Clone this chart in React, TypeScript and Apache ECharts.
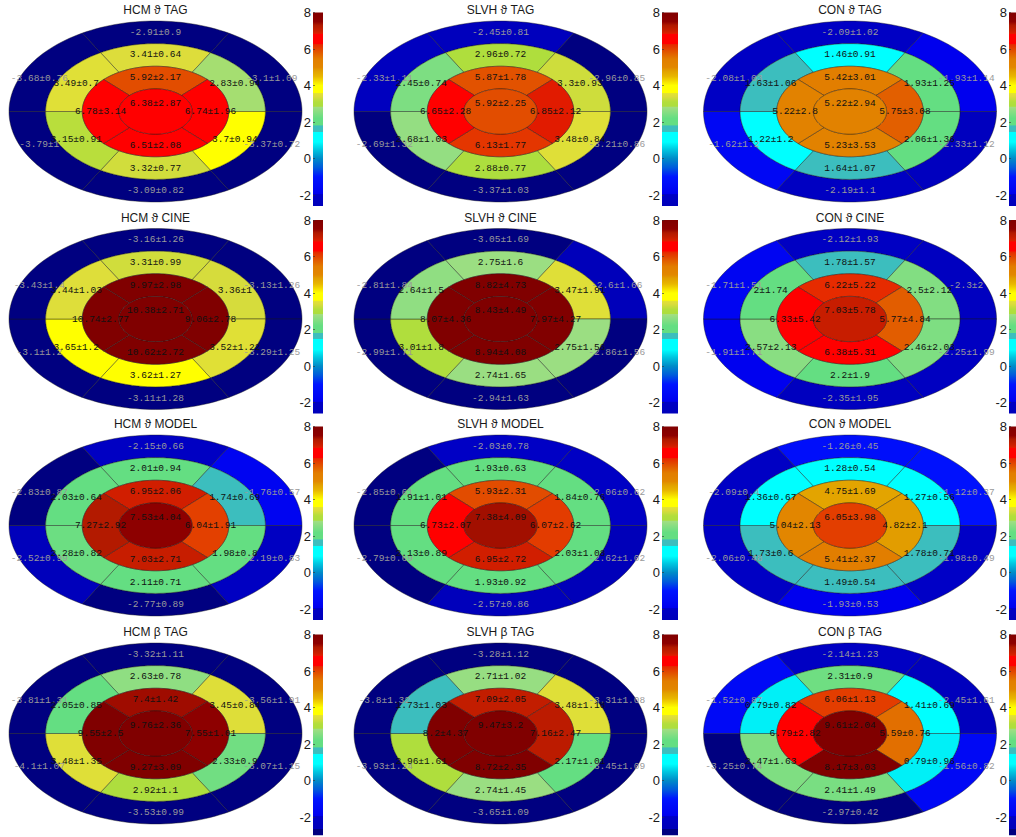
import React, { useEffect, useRef } from "react";
import * as echarts from "echarts";

// Panel titles (row by row)
const TITLES = [
  "HCM ϑ TAG", "SLVH ϑ TAG", "CON ϑ TAG",
  "HCM ϑ CINE", "SLVH ϑ CINE", "CON ϑ CINE",
  "HCM ϑ MODEL", "SLVH ϑ MODEL", "CON ϑ MODEL",
  "HCM β TAG", "SLVH β TAG", "CON β TAG",
];

// Segment order: outer ring (top, upper-right, lower-right, bottom, lower-left, upper-left),
// middle ring (same order), inner ring (top, right, bottom, left), apex
const HCM_THETA_TAG_MEAN = [-2.91, -3.1, -3.37, -3.09, -3.79, -3.68, 3.41, 2.83, 3.7, 3.32, 3.15, 3.49, 5.92, 6.74, 6.51, 6.78, 6.38];
const HCM_THETA_TAG_SD = [0.9, 1.09, 0.72, 0.82, 1, 0.76, 0.64, 0.94, 0.94, 0.77, 0.91, 0.7, 2.17, 1.96, 2.08, 3.14, 2.87];

const SLVH_THETA_TAG_MEAN = [-2.45, -2.96, -3.21, -3.37, -2.69, -2.33, 2.96, 3.3, 3.48, 2.88, 2.68, 2.45, 5.87, 6.85, 6.13, 6.65, 5.92];
const SLVH_THETA_TAG_SD = [0.81, 0.85, 0.86, 1.03, 1.32, 1.11, 0.72, 0.93, 0.84, 0.77, 1.03, 0.74, 1.78, 2.12, 1.77, 2.28, 2.25];

const CON_THETA_TAG_MEAN = [-2.09, -1.93, -2.33, -2.19, -1.62, -2.08, 1.46, 1.93, 2.06, 1.64, 1.22, 1.63, 5.42, 5.75, 5.23, 5.22, 5.22];
const CON_THETA_TAG_SD = [1.02, 1.14, 1.12, 1.1, 1.2, 1.03, 0.91, 1.25, 1.36, 1.07, 1.2, 1.06, 3.01, 3.08, 3.53, 2.8, 2.94];

const HCM_THETA_CINE_MEAN = [-3.16, -3.13, -3.29, -3.11, -3.1, -3.43, 3.31, 3.36, 3.52, 3.62, 3.65, 3.44, 9.97, 9.06, 10.62, 10.74, 10.38];
const HCM_THETA_CINE_SD = [1.26, 1.26, 1.25, 1.28, 1.2, 1.4, 0.99, 1, 1.22, 1.27, 1.2, 1.03, 2.98, 2.78, 2.72, 2.77, 2.71];

const SLVH_THETA_CINE_MEAN = [-3.05, -2.6, -2.86, -2.94, -2.99, -2.81, 2.75, 3.47, 2.75, 2.74, 3.01, 2.64, 8.82, 7.97, 8.94, 8.07, 8.43];
const SLVH_THETA_CINE_SD = [1.69, 1.66, 1.56, 1.63, 1.71, 1.84, 1.6, 1.91, 1.56, 1.65, 1.8, 1.5, 4.73, 4.27, 4.08, 4.36, 4.49];

const CON_THETA_CINE_MEAN = [-2.12, -2.3, -2.25, -2.35, -1.91, -1.71, 1.78, 2.5, 2.46, 2.2, 2.57, 2, 6.22, 5.77, 6.38, 6.33, 7.03];
const CON_THETA_CINE_SD = [1.93, 2, 1.99, 1.95, 1.71, 1.51, 1.57, 2.12, 2.03, 1.9, 2.13, 1.74, 5.22, 4.84, 5.31, 5.42, 5.78];

const HCM_THETA_MODEL_MEAN = [-2.15, -1.76, -2.19, -2.77, -2.52, -2.83, 2.01, 1.74, 1.98, 2.11, 2.28, 2.03, 6.95, 6.04, 7.03, 7.27, 7.53];
const HCM_THETA_MODEL_SD = [0.66, 0.57, 0.83, 0.89, 0.99, 0.87, 0.94, 0.69, 0.8, 0.71, 0.82, 0.64, 2.06, 1.91, 2.71, 2.92, 4.04];

const SLVH_THETA_MODEL_MEAN = [-2.03, -2.06, -2.62, -2.57, -2.79, -2.85, 1.93, 1.84, 2.03, 1.93, 2.13, 1.91, 5.93, 6.07, 6.95, 6.73, 7.38];
const SLVH_THETA_MODEL_SD = [0.78, 0.62, 1.02, 0.86, 0.69, 0.61, 0.63, 0.76, 1.08, 0.92, 0.89, 1.01, 2.31, 2.62, 2.72, 2.07, 4.09];

const CON_THETA_MODEL_MEAN = [-1.26, -1.12, -1.98, -1.93, -2.06, -2.09, 1.28, 1.27, 1.78, 1.49, 1.73, 1.36, 4.75, 4.82, 5.41, 5.04, 6.05];
const CON_THETA_MODEL_SD = [0.45, 0.37, 0.49, 0.53, 0.48, 0.4, 0.54, 0.56, 0.71, 0.54, 0.6, 0.67, 1.69, 2.1, 2.37, 2.13, 3.98];

const HCM_BETA_TAG_MEAN = [-3.32, -3.56, -3.07, -3.53, -4.1, -3.81, 2.63, 3.45, 2.33, 2.92, 3.48, 2.05, 7.4, 7.55, 9.27, 9.55, 9.76];
const HCM_BETA_TAG_SD = [1.11, 1.91, 1.15, 0.99, 1.07, 1.31, 0.78, 0.84, 0.9, 1.1, 1.35, 0.85, 1.42, 1.01, 3.09, 2.5, 2.36];

const SLVH_BETA_TAG_MEAN = [-3.28, -3.31, -3.45, -3.65, -3.93, -3.8, 2.71, 3.48, 2.17, 2.74, 2.96, 1.73, 7.09, 7.16, 8.72, 8.2, 9.47];
const SLVH_BETA_TAG_SD = [1.12, 1.08, 1.09, 1.09, 1.24, 1.32, 1.02, 1.18, 1.01, 1.45, 1.61, 1.03, 2.05, 2.47, 2.35, 4.37, 3.2];

const CON_BETA_TAG_MEAN = [-2.14, -2.45, -1.56, -2.97, -3.25, -1.52, 2.31, 1.41, 0.79, 2.41, 2.47, 0.79, 6.06, 5.59, 8.17, 6.79, 9.61];
const CON_BETA_TAG_SD = [1.23, 1.61, 0.82, 0.42, 0.74, 0.87, 0.9, 0.69, 0.96, 1.49, 1.63, 0.82, 1.13, 0.76, 3.03, 2.82, 2.04];

const PANEL_MEANS = [
  HCM_THETA_TAG_MEAN, SLVH_THETA_TAG_MEAN, CON_THETA_TAG_MEAN,
  HCM_THETA_CINE_MEAN, SLVH_THETA_CINE_MEAN, CON_THETA_CINE_MEAN,
  HCM_THETA_MODEL_MEAN, SLVH_THETA_MODEL_MEAN, CON_THETA_MODEL_MEAN,
  HCM_BETA_TAG_MEAN, SLVH_BETA_TAG_MEAN, CON_BETA_TAG_MEAN,
];
const PANEL_SDS = [
  HCM_THETA_TAG_SD, SLVH_THETA_TAG_SD, CON_THETA_TAG_SD,
  HCM_THETA_CINE_SD, SLVH_THETA_CINE_SD, CON_THETA_CINE_SD,
  HCM_THETA_MODEL_SD, SLVH_THETA_MODEL_SD, CON_THETA_MODEL_SD,
  HCM_BETA_TAG_SD, SLVH_BETA_TAG_SD, CON_BETA_TAG_SD,
];

// Colour bar scale
const CB_TICKS = [-2, 0, 2, 4, 6, 8];
const CB_MAX = 8;
const CB_MIN_BY_ROW = [-2.6, -2.6, -2.6, -3];

// ---------- style / layout ----------
const CMAP_MIN = -2.66;
const CMAP_MAX = 8;
// [value, r, g, b] colour stops of the (jet-like) colour map
const CMAP_STOPS: number[][] = [
  [-2.66, 0, 0, 128],
  [-2.64, 0, 0, 185],
  [-1.97, 0, 0, 198],
  [-1.94, 0, 0, 238],
  [-1.0, 0, 20, 255],
  [-0.5, 0, 90, 220],
  [0.0, 0, 140, 200],
  [0.5, 0, 200, 225],
  [0.9, 0, 255, 255],
  [1.47, 0, 255, 255],
  [1.48, 60, 190, 190],
  [1.8, 60, 190, 190],
  [1.82, 100, 222, 130],
  [2.2, 100, 222, 130],
  [2.82, 162, 222, 130],
  [2.86, 172, 222, 62],
  [3.1, 178, 222, 60],
  [3.4, 220, 220, 60],
  [3.56, 226, 226, 52],
  [3.6, 255, 255, 0],
  [4.0, 255, 255, 0],
  [4.5, 232, 182, 0],
  [4.8, 226, 160, 0],
  [5.0, 226, 135, 0],
  [5.45, 226, 125, 0],
  [5.75, 226, 95, 0],
  [6.0, 226, 68, 0],
  [6.25, 230, 40, 0],
  [6.3, 255, 0, 0],
  [6.8, 255, 0, 0],
  [6.85, 222, 30, 0],
  [7.0, 202, 30, 0],
  [7.3, 176, 25, 0],
  [7.5, 142, 0, 0],
  [8.0, 128, 0, 0],
];
function cmap(v: number): string {
  const s = CMAP_STOPS;
  if (v <= s[0][0]) return `rgb(${s[0][1]},${s[0][2]},${s[0][3]})`;
  for (let i = 1; i < s.length; i++) {
    if (v <= s[i][0]) {
      const a = s[i - 1], b = s[i];
      const t = (v - a[0]) / (b[0] - a[0]);
      const c = [1, 2, 3].map((k) => Math.round(a[k] + (b[k] - a[k]) * t));
      return `rgb(${c[0]},${c[1]},${c[2]})`;
    }
  }
  const l = s[s.length - 1];
  return `rgb(${l[1]},${l[2]},${l[3]})`;
}
const CMAP_STEP = 0.02;
const CMAP_N = Math.round((CMAP_MAX - CMAP_MIN) / CMAP_STEP);
const CMAP_COLORS: string[] = [];
for (let i = 0; i <= CMAP_N; i++) CMAP_COLORS.push(cmap(CMAP_MIN + i * CMAP_STEP));

const COL_CX = [155.5, 500.5, 850];
const ROW_TOP = [12.5, 220, 426.5, 634.5];
const ELL_DY = 99;
const ELL_RX = 146.5;
const ELL_RY = 90.5;
const CB_LEFT = [313, 662, 1009];
const CB_W = [10, 16, 16];
const PX_PER_UNIT = 18.25;

// geometry of the 17 segments (unit ellipse)
const SIX_CENTERS = [90, 30, 330, 270, 210, 150];
const OUTER_LABEL_ANG = [90, 25, 335, 270, 205, 155];
const FOUR_CENTERS = [90, 0, 270, 180];
type Geom = { r0: number; r1: number; c: number; h: number; lx: number; ly: number; outer: boolean };
const GEOM: Geom[] = [];
for (let i = 0; i < 6; i++) {
  const a = (OUTER_LABEL_ANG[i] * Math.PI) / 180;
  GEOM.push({ r0: 0.75, r1: 1, c: SIX_CENTERS[i], h: 30, lx: 0.875 * Math.cos(a), ly: 0.875 * Math.sin(a), outer: true });
}
for (let i = 0; i < 6; i++) {
  const a = (SIX_CENTERS[i] * Math.PI) / 180;
  GEOM.push({ r0: 0.5, r1: 0.75, c: SIX_CENTERS[i], h: 30, lx: 0.625 * Math.cos(a), ly: 0.625 * Math.sin(a), outer: false });
}
for (let i = 0; i < 4; i++) {
  const a = (FOUR_CENTERS[i] * Math.PI) / 180;
  GEOM.push({ r0: 0.25, r1: 0.5, c: FOUR_CENTERS[i], h: 45, lx: 0.375 * Math.cos(a), ly: 0.375 * Math.sin(a), outer: false });
}
GEOM.push({ r0: 0, r1: 0.25, c: 90, h: 180, lx: 0, ly: 0.09, outer: false });

const LABEL_FONT = '9.5px "Liberation Mono", "DejaVu Sans Mono", monospace';
const SANS = '"Liberation Sans", Arial, "DejaVu Sans", sans-serif';

function renderSegment(params: any, api: any) {
  const g = GEOM[params.dataIndex];
  const n = Math.max(10, Math.ceil((2 * g.h) / 2));
  const pts: number[][] = [];
  for (let k = 0; k <= n; k++) {
    const a = ((g.c - g.h + (2 * g.h * k) / n) * Math.PI) / 180;
    pts.push(api.coord([g.r1 * Math.cos(a), g.r1 * Math.sin(a)]));
  }
  if (g.r0 > 0) {
    for (let k = n; k >= 0; k--) {
      const a = ((g.c - g.h + (2 * g.h * k) / n) * Math.PI) / 180;
      pts.push(api.coord([g.r0 * Math.cos(a), g.r0 * Math.sin(a)]));
    }
  }
  const mean = api.value(0);
  const sd = api.value(1);
  const lp = api.coord([g.lx, g.ly]);
  return {
    type: "group",
    children: [
      {
        type: "polygon",
        shape: { points: pts },
        style: { fill: api.visual("color"), stroke: "rgba(25,25,25,0.7)", lineWidth: 0.6 },
      },
      {
        type: "text",
        x: lp[0],
        y: lp[1],
        z2: 20,
        style: {
          text: `${mean}±${sd}`,
          font: LABEL_FONT,
          fill: g.outer ? "#9a9a9a" : "#111111",
          align: "center",
          verticalAlign: "middle",
          textAlign: "center",
          textVerticalAlign: "middle",
        },
      },
    ],
  };
}

function makeColorbarRender(cbMin: number) {
  const stops: { offset: number; color: string }[] = [];
  const steps = Math.round((CB_MAX - cbMin) / CMAP_STEP);
  for (let i = 0; i <= steps; i++) {
    const v = cbMin + i * CMAP_STEP;
    stops.push({ offset: Math.min(1, (v - cbMin) / (CB_MAX - cbMin)), color: cmap(v) });
  }
  return (params: any, api: any) => {
    const p0 = api.coord([0, api.value(2)]);
    const p1 = api.coord([1, api.value(1)]);
    return {
      type: "rect",
      shape: { x: p0[0], y: p0[1], width: p1[0] - p0[0], height: p1[1] - p0[1] },
      style: { fill: new echarts.graphic.LinearGradient(0, 1, 0, 0, stops) },
    };
  };
}

function buildOption() {
  const grid: any[] = [];
  const xAxis: any[] = [];
  const yAxis: any[] = [];
  const series: any[] = [];
  const graphic: any[] = [];

  // ellipse panels
  for (let p = 0; p < 12; p++) {
    const row = Math.floor(p / 3), col = p % 3;
    const cx = COL_CX[col];
    const cy = ROW_TOP[row] + ELL_DY;
    grid.push({ left: cx - ELL_RX, top: cy - ELL_RY, width: 2 * ELL_RX, height: 2 * ELL_RY });
    xAxis.push({ type: "value", gridIndex: p, min: -1, max: 1, show: false });
    yAxis.push({ type: "value", gridIndex: p, min: -1, max: 1, show: false });
    const means = PANEL_MEANS[p], sds = PANEL_SDS[p];
    series.push({
      type: "custom",
      name: TITLES[p],
      xAxisIndex: p,
      yAxisIndex: p,
      clip: false,
      renderItem: renderSegment,
      data: means.map((m, k) => [m, sds[k]]),
    });
    graphic.push({
      type: "text",
      x: cx,
      y: ROW_TOP[row] - 2.5,
      style: {
        text: TITLES[p],
        font: `12px ${SANS}`,
        fill: "#1a1a1a",
        textAlign: "center",
        textVerticalAlign: "middle",
      },
    });
  }

  // colour bars
  for (let p = 0; p < 12; p++) {
    const row = Math.floor(p / 3), col = p % 3;
    const cbMin = CB_MIN_BY_ROW[row];
    const gi = 12 + p;
    grid.push({
      left: CB_LEFT[col],
      top: ROW_TOP[row],
      width: CB_W[col],
      height: (CB_MAX - cbMin) * PX_PER_UNIT,
    });
    xAxis.push({ type: "value", gridIndex: gi, min: 0, max: 1, show: false });
    yAxis.push({
      type: "value",
      gridIndex: gi,
      min: cbMin,
      max: CB_MAX,
      position: "left",
      axisLine: { show: false },
      splitLine: { show: false },
      axisTick: { show: true, inside: true, length: 2, customValues: CB_TICKS, lineStyle: { color: "#333", width: 0.6 } },
      axisLabel: {
        customValues: CB_TICKS,
        fontSize: 13,
        fontFamily: SANS,
        color: "#1a1a1a",
        margin: 2,
      },
      z: 5,
    });
    series.push({
      type: "custom",
      name: `colorbar ${TITLES[p]}`,
      xAxisIndex: gi,
      yAxisIndex: gi,
      renderItem: makeColorbarRender(cbMin),
      data: [[0, cbMin, CB_MAX]],
      silent: true,
    });
  }

  return {
    animation: false,
    backgroundColor: "#ffffff",
    grid,
    xAxis,
    yAxis,
    visualMap: {
      type: "continuous",
      show: false,
      min: CMAP_MIN,
      max: CMAP_MAX,
      dimension: 0,
      seriesIndex: Array.from({ length: 12 }, (_, i) => i),
      inRange: { color: CMAP_COLORS },
    },
    graphic,
    series,
  };
}

export default function App() {
  const ref = useRef<HTMLDivElement>(null);
  useEffect(() => {
    if (!ref.current) return;
    const chart = echarts.init(ref.current, null, { renderer: "svg" });
    chart.setOption(buildOption() as any);
    return () => chart.dispose();
  }, []);
  return (
    <div
      ref={ref}
      style={{ position: "fixed", left: 0, top: 0, width: 1016, height: 837, background: "#fff" }}
    />
  );
}
